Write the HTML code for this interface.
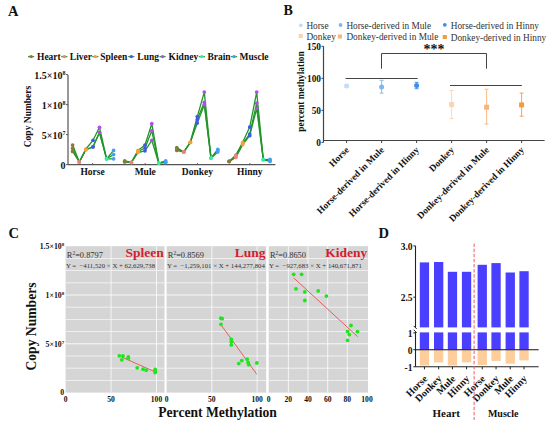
<!DOCTYPE html>
<html><head><meta charset="utf-8"><style>
html,body{margin:0;padding:0;background:#fff;}
body{width:550px;height:429px;overflow:hidden;}
svg{display:block;font-family:"Liberation Serif",serif;}
</style></head><body>
<svg width="550" height="429" viewBox="0 0 550 429">
<text x="8" y="15.8" font-size="14.5" font-weight="bold" text-anchor="start" fill="#111" >A</text>
<text x="283.5" y="15.3" font-size="14" font-weight="bold" text-anchor="start" fill="#111" >B</text>
<text x="8.5" y="238" font-size="14.5" font-weight="bold" text-anchor="start" fill="#111" >C</text>
<text x="378.5" y="237.9" font-size="14.5" font-weight="bold" text-anchor="start" fill="#111" >D</text>
<line x1="68.0" y1="75" x2="68.0" y2="164.6" stroke="#555" stroke-width="1.2" />
<line x1="68.0" y1="164.6" x2="275.4" y2="164.6" stroke="#555" stroke-width="1.2" />
<line x1="66.0" y1="74.6" x2="68.0" y2="74.6" stroke="#555" stroke-width="1" />
<text x="65.5" y="78.8" font-size="10" font-weight="bold" text-anchor="end" fill="#111" >1.5×10<tspan dy="-3.5" font-size="6">8</tspan></text>
<line x1="66.0" y1="104.6" x2="68.0" y2="104.6" stroke="#555" stroke-width="1" />
<text x="65.5" y="108.8" font-size="10" font-weight="bold" text-anchor="end" fill="#111" >1×10<tspan dy="-3.5" font-size="6">8</tspan></text>
<line x1="66.0" y1="134.6" x2="68.0" y2="134.6" stroke="#555" stroke-width="1" />
<text x="65.5" y="138.79999999999998" font-size="10" font-weight="bold" text-anchor="end" fill="#111" >5×10<tspan dy="-3.5" font-size="6">7</tspan></text>
<line x1="66.0" y1="164.6" x2="68.0" y2="164.6" stroke="#555" stroke-width="1" />
<text x="65.5" y="168.79999999999998" font-size="10" font-weight="bold" text-anchor="end" fill="#111" >0</text>
<line x1="92.6" y1="164.6" x2="92.6" y2="163.1" stroke="#555" stroke-width="1" />
<text x="92.6" y="174.8" font-size="9.5" font-weight="bold" text-anchor="middle" fill="#111" >Horse</text>
<line x1="145.2" y1="164.6" x2="145.2" y2="163.1" stroke="#555" stroke-width="1" />
<text x="145.2" y="174.8" font-size="9.5" font-weight="bold" text-anchor="middle" fill="#111" >Mule</text>
<line x1="197.4" y1="164.6" x2="197.4" y2="163.1" stroke="#555" stroke-width="1" />
<text x="197.4" y="174.8" font-size="9.5" font-weight="bold" text-anchor="middle" fill="#111" >Donkey</text>
<line x1="249.8" y1="164.6" x2="249.8" y2="163.1" stroke="#555" stroke-width="1" />
<text x="249.8" y="174.8" font-size="9.5" font-weight="bold" text-anchor="middle" fill="#111" >Hinny</text>
<text transform="translate(30.5,116.5) rotate(-90)" font-size="9.5" font-weight="bold" text-anchor="middle" fill="#111">Copy Numbers</text>
<polyline points="72.6,145 79.3,162 85.8,149 93.0,140.3 99.5,127.3 106.6,158.8 113.6,150.4" fill="none" stroke="#22962a" stroke-width="1.3" stroke-linejoin="round"/>
<polyline points="72.6,148.3 79.3,162 85.8,149.5 93.0,146.8 99.5,132.5 106.6,158.8 113.6,154.6" fill="none" stroke="#22962a" stroke-width="1.3" stroke-linejoin="round"/>
<polyline points="72.6,151.4 79.3,162 85.8,150 93.0,146.8 99.5,132.5 106.6,158.8 113.6,158.8" fill="none" stroke="#22962a" stroke-width="1.3" stroke-linejoin="round"/>
<polyline points="124.7,160.9 131.4,162.4 138.0,150.4 145.0,145 151.8,123.7 158.7,163 165.7,160.9" fill="none" stroke="#22962a" stroke-width="1.3" stroke-linejoin="round"/>
<polyline points="124.7,161.5 131.4,162.4 138.0,151.5 145.0,148 151.8,130.8 158.7,163 165.7,162" fill="none" stroke="#22962a" stroke-width="1.3" stroke-linejoin="round"/>
<polyline points="124.7,162 131.4,162.4 138.0,152.5 145.0,150.8 151.8,140.3 158.7,163 165.7,162.6" fill="none" stroke="#22962a" stroke-width="1.3" stroke-linejoin="round"/>
<polyline points="176.8,147.6 183.8,152 190.3,142.3 197.3,116.6 204.3,92.1 211.0,158.1 217.8,149.3" fill="none" stroke="#22962a" stroke-width="1.3" stroke-linejoin="round"/>
<polyline points="176.8,149 183.8,152 190.3,142.3 197.3,119.4 204.3,102.3 211.0,158.1 217.8,150.5" fill="none" stroke="#22962a" stroke-width="1.3" stroke-linejoin="round"/>
<polyline points="176.8,150.4 183.8,152 190.3,142.3 197.3,123.1 204.3,104.8 211.0,158.1 217.8,152" fill="none" stroke="#22962a" stroke-width="1.3" stroke-linejoin="round"/>
<polyline points="229.2,161.4 235.8,155 242.7,142.3 249.7,127.1 256.7,92.1 263.3,159.7 270.0,159.3" fill="none" stroke="#22962a" stroke-width="1.3" stroke-linejoin="round"/>
<polyline points="229.2,161.4 235.8,156.5 242.7,143.5 249.7,134.1 256.7,103.1 263.3,159.7 270.0,160.3" fill="none" stroke="#22962a" stroke-width="1.3" stroke-linejoin="round"/>
<polyline points="229.2,161.4 235.8,157.4 242.7,144.6 249.7,135.7 256.7,108.5 263.3,159.7 270.0,161.4" fill="none" stroke="#22962a" stroke-width="1.3" stroke-linejoin="round"/>
<circle cx="72.6" cy="145" r="1.85" fill="#8a7a3a"/>
<circle cx="72.6" cy="148.3" r="1.85" fill="#8a7a3a"/>
<circle cx="72.6" cy="151.4" r="1.85" fill="#8a7a3a"/>
<circle cx="79.3" cy="162" r="1.85" fill="#f08080"/>
<circle cx="79.3" cy="162" r="1.85" fill="#f08080"/>
<circle cx="79.3" cy="162" r="1.85" fill="#f08080"/>
<circle cx="85.8" cy="149" r="1.85" fill="#f4a040"/>
<circle cx="85.8" cy="149.5" r="1.85" fill="#f4a040"/>
<circle cx="85.8" cy="150" r="1.85" fill="#f4a040"/>
<circle cx="93.0" cy="140.3" r="1.85" fill="#3c5ce4"/>
<circle cx="93.0" cy="146.8" r="1.85" fill="#3c5ce4"/>
<circle cx="93.0" cy="146.8" r="1.85" fill="#3c5ce4"/>
<circle cx="99.5" cy="127.3" r="1.85" fill="#b04ee8"/>
<circle cx="99.5" cy="132.5" r="1.85" fill="#b04ee8"/>
<circle cx="99.5" cy="132.5" r="1.85" fill="#b04ee8"/>
<circle cx="106.6" cy="158.8" r="1.85" fill="#3ee8a4"/>
<circle cx="106.6" cy="158.8" r="1.85" fill="#3ee8a4"/>
<circle cx="106.6" cy="158.8" r="1.85" fill="#3ee8a4"/>
<circle cx="113.6" cy="150.4" r="1.85" fill="#42a0f2"/>
<circle cx="113.6" cy="154.6" r="1.85" fill="#42a0f2"/>
<circle cx="113.6" cy="158.8" r="1.85" fill="#42a0f2"/>
<circle cx="124.7" cy="160.9" r="1.85" fill="#8a7a3a"/>
<circle cx="124.7" cy="161.5" r="1.85" fill="#8a7a3a"/>
<circle cx="124.7" cy="162" r="1.85" fill="#8a7a3a"/>
<circle cx="131.4" cy="162.4" r="1.85" fill="#f08080"/>
<circle cx="131.4" cy="162.4" r="1.85" fill="#f08080"/>
<circle cx="131.4" cy="162.4" r="1.85" fill="#f08080"/>
<circle cx="138.0" cy="150.4" r="1.85" fill="#f4a040"/>
<circle cx="138.0" cy="151.5" r="1.85" fill="#f4a040"/>
<circle cx="138.0" cy="152.5" r="1.85" fill="#f4a040"/>
<circle cx="145.0" cy="145" r="1.85" fill="#3c5ce4"/>
<circle cx="145.0" cy="148" r="1.85" fill="#3c5ce4"/>
<circle cx="145.0" cy="150.8" r="1.85" fill="#3c5ce4"/>
<circle cx="151.8" cy="123.7" r="1.85" fill="#b04ee8"/>
<circle cx="151.8" cy="130.8" r="1.85" fill="#b04ee8"/>
<circle cx="151.8" cy="140.3" r="1.85" fill="#b04ee8"/>
<circle cx="158.7" cy="163" r="1.85" fill="#3ee8a4"/>
<circle cx="158.7" cy="163" r="1.85" fill="#3ee8a4"/>
<circle cx="158.7" cy="163" r="1.85" fill="#3ee8a4"/>
<circle cx="165.7" cy="160.9" r="1.85" fill="#42a0f2"/>
<circle cx="165.7" cy="162" r="1.85" fill="#42a0f2"/>
<circle cx="165.7" cy="162.6" r="1.85" fill="#42a0f2"/>
<circle cx="176.8" cy="147.6" r="1.85" fill="#8a7a3a"/>
<circle cx="176.8" cy="149" r="1.85" fill="#8a7a3a"/>
<circle cx="176.8" cy="150.4" r="1.85" fill="#8a7a3a"/>
<circle cx="183.8" cy="152" r="1.85" fill="#f08080"/>
<circle cx="183.8" cy="152" r="1.85" fill="#f08080"/>
<circle cx="183.8" cy="152" r="1.85" fill="#f08080"/>
<circle cx="190.3" cy="142.3" r="1.85" fill="#f4a040"/>
<circle cx="190.3" cy="142.3" r="1.85" fill="#f4a040"/>
<circle cx="190.3" cy="142.3" r="1.85" fill="#f4a040"/>
<circle cx="197.3" cy="116.6" r="1.85" fill="#3c5ce4"/>
<circle cx="197.3" cy="119.4" r="1.85" fill="#3c5ce4"/>
<circle cx="197.3" cy="123.1" r="1.85" fill="#3c5ce4"/>
<circle cx="204.3" cy="92.1" r="1.85" fill="#b04ee8"/>
<circle cx="204.3" cy="102.3" r="1.85" fill="#b04ee8"/>
<circle cx="204.3" cy="104.8" r="1.85" fill="#b04ee8"/>
<circle cx="211.0" cy="158.1" r="1.85" fill="#3ee8a4"/>
<circle cx="211.0" cy="158.1" r="1.85" fill="#3ee8a4"/>
<circle cx="211.0" cy="158.1" r="1.85" fill="#3ee8a4"/>
<circle cx="217.8" cy="149.3" r="1.85" fill="#42a0f2"/>
<circle cx="217.8" cy="150.5" r="1.85" fill="#42a0f2"/>
<circle cx="217.8" cy="152" r="1.85" fill="#42a0f2"/>
<circle cx="229.2" cy="161.4" r="1.85" fill="#8a7a3a"/>
<circle cx="229.2" cy="161.4" r="1.85" fill="#8a7a3a"/>
<circle cx="229.2" cy="161.4" r="1.85" fill="#8a7a3a"/>
<circle cx="235.8" cy="155" r="1.85" fill="#f08080"/>
<circle cx="235.8" cy="156.5" r="1.85" fill="#f08080"/>
<circle cx="235.8" cy="157.4" r="1.85" fill="#f08080"/>
<circle cx="242.7" cy="142.3" r="1.85" fill="#f4a040"/>
<circle cx="242.7" cy="143.5" r="1.85" fill="#f4a040"/>
<circle cx="242.7" cy="144.6" r="1.85" fill="#f4a040"/>
<circle cx="249.7" cy="127.1" r="1.85" fill="#3c5ce4"/>
<circle cx="249.7" cy="134.1" r="1.85" fill="#3c5ce4"/>
<circle cx="249.7" cy="135.7" r="1.85" fill="#3c5ce4"/>
<circle cx="256.7" cy="92.1" r="1.85" fill="#b04ee8"/>
<circle cx="256.7" cy="103.1" r="1.85" fill="#b04ee8"/>
<circle cx="256.7" cy="108.5" r="1.85" fill="#b04ee8"/>
<circle cx="263.3" cy="159.7" r="1.85" fill="#3ee8a4"/>
<circle cx="263.3" cy="159.7" r="1.85" fill="#3ee8a4"/>
<circle cx="263.3" cy="159.7" r="1.85" fill="#3ee8a4"/>
<circle cx="270.0" cy="159.3" r="1.85" fill="#42a0f2"/>
<circle cx="270.0" cy="160.3" r="1.85" fill="#42a0f2"/>
<circle cx="270.0" cy="161.4" r="1.85" fill="#42a0f2"/>
<line x1="28.0" y1="56.6" x2="34.2" y2="56.6" stroke="#3a9a3a" stroke-width="1.3"/>
<circle cx="31.1" cy="56.6" r="1.7" fill="#8a7a3a"/>
<text x="37" y="60.2" font-size="9.5" font-weight="bold" text-anchor="start" fill="#111" >Heart</text>
<line x1="61.199999999999996" y1="56.6" x2="67.39999999999999" y2="56.6" stroke="#3a9a3a" stroke-width="1.3"/>
<circle cx="64.3" cy="56.6" r="1.7" fill="#f08080"/>
<text x="69.8" y="60.2" font-size="9.5" font-weight="bold" text-anchor="start" fill="#111" >Liver</text>
<line x1="92.2" y1="56.6" x2="98.39999999999999" y2="56.6" stroke="#3a9a3a" stroke-width="1.3"/>
<circle cx="95.3" cy="56.6" r="1.7" fill="#f4a040"/>
<text x="100.3" y="60.2" font-size="9.5" font-weight="bold" text-anchor="start" fill="#111" >Spleen</text>
<line x1="128.20000000000002" y1="56.6" x2="134.4" y2="56.6" stroke="#3a9a3a" stroke-width="1.3"/>
<circle cx="131.3" cy="56.6" r="1.7" fill="#3c5ce4"/>
<text x="137.3" y="60.2" font-size="9.5" font-weight="bold" text-anchor="start" fill="#111" >Lung</text>
<line x1="159.5" y1="56.6" x2="165.7" y2="56.6" stroke="#3a9a3a" stroke-width="1.3"/>
<circle cx="162.6" cy="56.6" r="1.7" fill="#b04ee8"/>
<text x="168.6" y="60.2" font-size="9.5" font-weight="bold" text-anchor="start" fill="#111" >Kidney</text>
<line x1="198.8" y1="56.6" x2="205.0" y2="56.6" stroke="#3a9a3a" stroke-width="1.3"/>
<circle cx="201.9" cy="56.6" r="1.7" fill="#3ee8a4"/>
<text x="207.4" y="60.2" font-size="9.5" font-weight="bold" text-anchor="start" fill="#111" >Brain</text>
<line x1="230.9" y1="56.6" x2="237.1" y2="56.6" stroke="#3a9a3a" stroke-width="1.3"/>
<circle cx="234.0" cy="56.6" r="1.7" fill="#42a0f2"/>
<text x="239.5" y="60.2" font-size="9.5" font-weight="bold" text-anchor="start" fill="#111" >Muscle</text>
<line x1="323.5" y1="46.3" x2="323.5" y2="142.4" stroke="#444" stroke-width="1.2" />
<line x1="323.5" y1="140.5" x2="544.6" y2="140.5" stroke="#444" stroke-width="1.2" />
<line x1="321.5" y1="46.3" x2="323.5" y2="46.3" stroke="#444" stroke-width="1" />
<text x="321.0" y="50.3" font-size="9.3" font-weight="bold" text-anchor="end" fill="#111" >150</text>
<line x1="321.5" y1="78.33333333333334" x2="323.5" y2="78.33333333333334" stroke="#444" stroke-width="1" />
<text x="321.0" y="82.33333333333334" font-size="9.3" font-weight="bold" text-anchor="end" fill="#111" >100</text>
<line x1="321.5" y1="110.36666666666667" x2="323.5" y2="110.36666666666667" stroke="#444" stroke-width="1" />
<text x="321.0" y="114.36666666666667" font-size="9.3" font-weight="bold" text-anchor="end" fill="#111" >50</text>
<line x1="321.5" y1="142.4" x2="323.5" y2="142.4" stroke="#444" stroke-width="1" />
<text x="321.0" y="146.4" font-size="9.3" font-weight="bold" text-anchor="end" fill="#111" >0</text>
<text transform="translate(304.2,91.5) rotate(-90)" font-size="9.4" font-weight="bold" text-anchor="middle" fill="#111">percent methylation</text>
<line x1="346.6" y1="140.5" x2="346.6" y2="143.0" stroke="#444" stroke-width="1" />
<text transform="translate(349.6,150.5) rotate(-45)" font-size="9.4" font-weight="bold" text-anchor="end" fill="#111">Horse</text>
<line x1="381.6" y1="140.5" x2="381.6" y2="143.0" stroke="#444" stroke-width="1" />
<text transform="translate(384.6,150.5) rotate(-45)" font-size="9.4" font-weight="bold" text-anchor="end" fill="#111">Horse-derived in Mule</text>
<line x1="416.6" y1="140.5" x2="416.6" y2="143.0" stroke="#444" stroke-width="1" />
<text transform="translate(419.6,150.5) rotate(-45)" font-size="9.4" font-weight="bold" text-anchor="end" fill="#111">Horse-derived in Hinny</text>
<line x1="451.6" y1="140.5" x2="451.6" y2="143.0" stroke="#444" stroke-width="1" />
<text transform="translate(454.6,150.5) rotate(-45)" font-size="9.4" font-weight="bold" text-anchor="end" fill="#111">Donkey</text>
<line x1="486.6" y1="140.5" x2="486.6" y2="143.0" stroke="#444" stroke-width="1" />
<text transform="translate(489.6,150.5) rotate(-45)" font-size="9.4" font-weight="bold" text-anchor="end" fill="#111">Donkey-derived in Mule</text>
<line x1="521.6" y1="140.5" x2="521.6" y2="143.0" stroke="#444" stroke-width="1" />
<text transform="translate(524.6,150.5) rotate(-45)" font-size="9.4" font-weight="bold" text-anchor="end" fill="#111">Donkey-derived in Hinny</text>
<line x1="346.6" y1="84.5" x2="346.6" y2="87.5" stroke="#c4dcf6" stroke-width="0.9" />
<line x1="344.6" y1="84.5" x2="348.6" y2="84.5" stroke="#c4dcf6" stroke-width="0.9" />
<line x1="344.6" y1="87.5" x2="348.6" y2="87.5" stroke="#c4dcf6" stroke-width="0.9" />
<circle cx="346.6" cy="86.0" r="2.5" fill="#c4dcf6"/>
<line x1="381.6" y1="80.3" x2="381.6" y2="93.1" stroke="#80b6ee" stroke-width="0.9" />
<line x1="379.6" y1="80.3" x2="383.6" y2="80.3" stroke="#80b6ee" stroke-width="0.9" />
<line x1="379.6" y1="93.1" x2="383.6" y2="93.1" stroke="#80b6ee" stroke-width="0.9" />
<circle cx="381.6" cy="86.9" r="2.5" fill="#80b6ee"/>
<line x1="416.6" y1="82.3" x2="416.6" y2="88.7" stroke="#3e8ee8" stroke-width="0.9" />
<line x1="414.6" y1="82.3" x2="418.6" y2="82.3" stroke="#3e8ee8" stroke-width="0.9" />
<line x1="414.6" y1="88.7" x2="418.6" y2="88.7" stroke="#3e8ee8" stroke-width="0.9" />
<circle cx="416.6" cy="85.6" r="2.5" fill="#3e8ee8"/>
<line x1="451.6" y1="90.5" x2="451.6" y2="118.7" stroke="#fad4ae" stroke-width="0.9" />
<line x1="449.6" y1="90.5" x2="453.6" y2="90.5" stroke="#fad4ae" stroke-width="0.9" />
<line x1="449.6" y1="118.7" x2="453.6" y2="118.7" stroke="#fad4ae" stroke-width="0.9" />
<rect x="449.1" y="102.1" width="5" height="5" fill="#fad4ae"/>
<line x1="486.6" y1="89.2" x2="486.6" y2="124.1" stroke="#f8b47a" stroke-width="0.9" />
<line x1="484.6" y1="89.2" x2="488.6" y2="89.2" stroke="#f8b47a" stroke-width="0.9" />
<line x1="484.6" y1="124.1" x2="488.6" y2="124.1" stroke="#f8b47a" stroke-width="0.9" />
<rect x="484.1" y="104.7" width="5" height="5" fill="#f8b47a"/>
<line x1="521.6" y1="93.1" x2="521.6" y2="116.2" stroke="#f59a3e" stroke-width="0.9" />
<line x1="519.6" y1="93.1" x2="523.6" y2="93.1" stroke="#f59a3e" stroke-width="0.9" />
<line x1="519.6" y1="116.2" x2="523.6" y2="116.2" stroke="#f59a3e" stroke-width="0.9" />
<rect x="519.1" y="102.4" width="5" height="5" fill="#f59a3e"/>
<line x1="345.5" y1="78.5" x2="417.6" y2="78.5" stroke="#444" stroke-width="1.1" />
<line x1="450" y1="85.5" x2="521.8" y2="85.5" stroke="#444" stroke-width="1.1" />
<polyline points="381.5,68.7 381.5,53.5 486.5,53.5 486.5,68.7" fill="none" stroke="#444" stroke-width="1"/>
<text x="434" y="54.0" font-size="14" font-weight="bold" text-anchor="middle" fill="#111" >***</text>
<circle cx="300.8" cy="25.3" r="1.9" fill="#c4dcf6"/>
<text x="306.4" y="28.7" font-size="9.3" font-weight="normal" text-anchor="start" fill="#333" >Horse</text>
<circle cx="340.5" cy="25.0" r="1.9" fill="#80b6ee"/>
<text x="346.4" y="28.7" font-size="9.3" font-weight="normal" text-anchor="start" fill="#333" >Horse-derived in Mule</text>
<circle cx="444.8" cy="24.8" r="1.9" fill="#3e8ee8"/>
<text x="450.7" y="28.5" font-size="9.3" font-weight="normal" text-anchor="start" fill="#333" >Horse-derived in Hinny</text>
<rect x="298.7" y="34.0" width="4.2" height="4" fill="#fad4ae"/>
<text x="306.4" y="39.6" font-size="9.3" font-weight="normal" text-anchor="start" fill="#333" >Donkey</text>
<rect x="337.79999999999995" y="34.5" width="4.2" height="4" fill="#f8b47a"/>
<text x="346.4" y="39.9" font-size="9.3" font-weight="normal" text-anchor="start" fill="#333" >Donkey-derived in Mule</text>
<rect x="442.7" y="35.0" width="4.2" height="4" fill="#f59a3e"/>
<text x="450.7" y="40.5" font-size="9.3" font-weight="normal" text-anchor="start" fill="#333" >Donkey-derived in Hinny</text>
<rect x="65.6" y="246.2" width="98.9" height="146.40000000000003" fill="#d5d5d5"/>
<line x1="65.6" y1="380.40000000000003" x2="164.5" y2="380.40000000000003" stroke="#ffffff" stroke-width="0.8" opacity="0.85"/>
<line x1="65.6" y1="368.2" x2="164.5" y2="368.2" stroke="#ffffff" stroke-width="0.8" opacity="0.85"/>
<line x1="65.6" y1="356.0" x2="164.5" y2="356.0" stroke="#ffffff" stroke-width="0.8" opacity="0.85"/>
<line x1="65.6" y1="343.8" x2="164.5" y2="343.8" stroke="#ffffff" stroke-width="1.0" opacity="0.85"/>
<line x1="65.6" y1="331.6" x2="164.5" y2="331.6" stroke="#ffffff" stroke-width="0.8" opacity="0.85"/>
<line x1="65.6" y1="319.4" x2="164.5" y2="319.4" stroke="#ffffff" stroke-width="0.8" opacity="0.85"/>
<line x1="65.6" y1="307.2" x2="164.5" y2="307.2" stroke="#ffffff" stroke-width="0.8" opacity="0.85"/>
<line x1="65.6" y1="295.0" x2="164.5" y2="295.0" stroke="#ffffff" stroke-width="1.0" opacity="0.85"/>
<line x1="65.6" y1="282.8" x2="164.5" y2="282.8" stroke="#ffffff" stroke-width="0.8" opacity="0.85"/>
<line x1="65.6" y1="270.6" x2="164.5" y2="270.6" stroke="#ffffff" stroke-width="0.8" opacity="0.85"/>
<line x1="65.6" y1="258.4" x2="164.5" y2="258.4" stroke="#ffffff" stroke-width="0.8" opacity="0.85"/>
<line x1="111.05" y1="246.2" x2="111.05" y2="392.6" stroke="#ffffff" stroke-width="0.9" opacity="0.85"/>
<line x1="156.5" y1="246.2" x2="156.5" y2="392.6" stroke="#ffffff" stroke-width="0.9" opacity="0.85"/>
<text x="66.8" y="257.5" font-size="8.4" fill="#333">R<tspan dy="-3" font-size="5.5">2</tspan><tspan dy="3">=0.8797</tspan></text>
<text x="65.89999999999999" y="267.8" font-size="6.8" fill="#333">Y =&#160; −411,520 × X + 62,629,738</text>
<text x="163.8" y="256.9" font-size="13.5" font-weight="bold" text-anchor="end" fill="#d41e2e" >Spleen</text>
<rect x="166.6" y="246.2" width="99.6" height="146.40000000000003" fill="#d5d5d5"/>
<line x1="166.6" y1="380.40000000000003" x2="266.2" y2="380.40000000000003" stroke="#ffffff" stroke-width="0.8" opacity="0.85"/>
<line x1="166.6" y1="368.2" x2="266.2" y2="368.2" stroke="#ffffff" stroke-width="0.8" opacity="0.85"/>
<line x1="166.6" y1="356.0" x2="266.2" y2="356.0" stroke="#ffffff" stroke-width="0.8" opacity="0.85"/>
<line x1="166.6" y1="343.8" x2="266.2" y2="343.8" stroke="#ffffff" stroke-width="1.0" opacity="0.85"/>
<line x1="166.6" y1="331.6" x2="266.2" y2="331.6" stroke="#ffffff" stroke-width="0.8" opacity="0.85"/>
<line x1="166.6" y1="319.4" x2="266.2" y2="319.4" stroke="#ffffff" stroke-width="0.8" opacity="0.85"/>
<line x1="166.6" y1="307.2" x2="266.2" y2="307.2" stroke="#ffffff" stroke-width="0.8" opacity="0.85"/>
<line x1="166.6" y1="295.0" x2="266.2" y2="295.0" stroke="#ffffff" stroke-width="1.0" opacity="0.85"/>
<line x1="166.6" y1="282.8" x2="266.2" y2="282.8" stroke="#ffffff" stroke-width="0.8" opacity="0.85"/>
<line x1="166.6" y1="270.6" x2="266.2" y2="270.6" stroke="#ffffff" stroke-width="0.8" opacity="0.85"/>
<line x1="166.6" y1="258.4" x2="266.2" y2="258.4" stroke="#ffffff" stroke-width="0.8" opacity="0.85"/>
<line x1="211.85" y1="246.2" x2="211.85" y2="392.6" stroke="#ffffff" stroke-width="0.9" opacity="0.85"/>
<line x1="257.1" y1="246.2" x2="257.1" y2="392.6" stroke="#ffffff" stroke-width="0.9" opacity="0.85"/>
<text x="167.79999999999998" y="257.5" font-size="8.4" fill="#333">R<tspan dy="-3" font-size="5.5">2</tspan><tspan dy="3">=0.8569</tspan></text>
<text x="166.9" y="267.8" font-size="6.8" fill="#333">Y =&#160; −1,259,101 × X + 144,277,804</text>
<text x="265.5" y="256.9" font-size="13.5" font-weight="bold" text-anchor="end" fill="#d41e2e" >Lung</text>
<rect x="268.7" y="246.2" width="99.30000000000001" height="146.40000000000003" fill="#d5d5d5"/>
<line x1="268.7" y1="380.40000000000003" x2="368.0" y2="380.40000000000003" stroke="#ffffff" stroke-width="0.8" opacity="0.85"/>
<line x1="268.7" y1="368.2" x2="368.0" y2="368.2" stroke="#ffffff" stroke-width="0.8" opacity="0.85"/>
<line x1="268.7" y1="356.0" x2="368.0" y2="356.0" stroke="#ffffff" stroke-width="0.8" opacity="0.85"/>
<line x1="268.7" y1="343.8" x2="368.0" y2="343.8" stroke="#ffffff" stroke-width="1.0" opacity="0.85"/>
<line x1="268.7" y1="331.6" x2="368.0" y2="331.6" stroke="#ffffff" stroke-width="0.8" opacity="0.85"/>
<line x1="268.7" y1="319.4" x2="368.0" y2="319.4" stroke="#ffffff" stroke-width="0.8" opacity="0.85"/>
<line x1="268.7" y1="307.2" x2="368.0" y2="307.2" stroke="#ffffff" stroke-width="0.8" opacity="0.85"/>
<line x1="268.7" y1="295.0" x2="368.0" y2="295.0" stroke="#ffffff" stroke-width="1.0" opacity="0.85"/>
<line x1="268.7" y1="282.8" x2="368.0" y2="282.8" stroke="#ffffff" stroke-width="0.8" opacity="0.85"/>
<line x1="268.7" y1="270.6" x2="368.0" y2="270.6" stroke="#ffffff" stroke-width="0.8" opacity="0.85"/>
<line x1="268.7" y1="258.4" x2="368.0" y2="258.4" stroke="#ffffff" stroke-width="0.8" opacity="0.85"/>
<line x1="288.36" y1="246.2" x2="288.36" y2="392.6" stroke="#ffffff" stroke-width="0.9" opacity="0.85"/>
<line x1="308.02" y1="246.2" x2="308.02" y2="392.6" stroke="#ffffff" stroke-width="0.9" opacity="0.85"/>
<line x1="327.68" y1="246.2" x2="327.68" y2="392.6" stroke="#ffffff" stroke-width="0.9" opacity="0.85"/>
<line x1="347.34" y1="246.2" x2="347.34" y2="392.6" stroke="#ffffff" stroke-width="0.9" opacity="0.85"/>
<text x="269.9" y="257.5" font-size="8.4" fill="#333">R<tspan dy="-3" font-size="5.5">2</tspan><tspan dy="3">=0.8650</tspan></text>
<text x="269.0" y="267.8" font-size="6.8" fill="#333">Y =&#160; −927,683 × X + 140,671,871</text>
<text x="367.3" y="256.9" font-size="13.5" font-weight="bold" text-anchor="end" fill="#d41e2e" >Kideny</text>
<line x1="121.5" y1="357.0" x2="155.4" y2="372.0" stroke="#e85050" stroke-width="0.9" />
<line x1="221" y1="324.8" x2="256.8" y2="374.3" stroke="#e85050" stroke-width="0.9" />
<line x1="293.7" y1="277.9" x2="357.7" y2="336.7" stroke="#e85050" stroke-width="0.9" />
<circle cx="119.3" cy="355.8" r="1.9" fill="#1ee61e"/>
<circle cx="123" cy="356" r="1.9" fill="#1ee61e"/>
<circle cx="121.8" cy="359.8" r="1.9" fill="#1ee61e"/>
<circle cx="128.3" cy="357" r="1.9" fill="#1ee61e"/>
<circle cx="128.3" cy="358.3" r="1.9" fill="#1ee61e"/>
<circle cx="137.2" cy="367.8" r="1.9" fill="#1ee61e"/>
<circle cx="143" cy="369.2" r="1.9" fill="#1ee61e"/>
<circle cx="146.2" cy="370.2" r="1.9" fill="#1ee61e"/>
<circle cx="155.2" cy="369.5" r="1.9" fill="#1ee61e"/>
<circle cx="155.2" cy="371.2" r="1.9" fill="#1ee61e"/>
<circle cx="155.2" cy="372.5" r="1.9" fill="#1ee61e"/>
<circle cx="220.8" cy="318.2" r="1.9" fill="#1ee61e"/>
<circle cx="222.2" cy="318.7" r="1.9" fill="#1ee61e"/>
<circle cx="221" cy="324.3" r="1.9" fill="#1ee61e"/>
<circle cx="231.3" cy="339.3" r="1.9" fill="#1ee61e"/>
<circle cx="231.3" cy="341.8" r="1.9" fill="#1ee61e"/>
<circle cx="231.3" cy="344.9" r="1.9" fill="#1ee61e"/>
<circle cx="238.8" cy="363.6" r="1.9" fill="#1ee61e"/>
<circle cx="241.8" cy="360.6" r="1.9" fill="#1ee61e"/>
<circle cx="247.2" cy="359.2" r="1.9" fill="#1ee61e"/>
<circle cx="248.1" cy="362.4" r="1.9" fill="#1ee61e"/>
<circle cx="248.8" cy="364.7" r="1.9" fill="#1ee61e"/>
<circle cx="256.8" cy="362.9" r="1.9" fill="#1ee61e"/>
<circle cx="293.7" cy="274.3" r="1.9" fill="#1ee61e"/>
<circle cx="301.6" cy="274.3" r="1.9" fill="#1ee61e"/>
<circle cx="296" cy="288.8" r="1.9" fill="#1ee61e"/>
<circle cx="304.8" cy="291.9" r="1.9" fill="#1ee61e"/>
<circle cx="304.8" cy="300.5" r="1.9" fill="#1ee61e"/>
<circle cx="318.2" cy="290.9" r="1.9" fill="#1ee61e"/>
<circle cx="326.4" cy="296.1" r="1.9" fill="#1ee61e"/>
<circle cx="351" cy="325.5" r="1.9" fill="#1ee61e"/>
<circle cx="347.6" cy="331.4" r="1.9" fill="#1ee61e"/>
<circle cx="349.3" cy="334.6" r="1.9" fill="#1ee61e"/>
<circle cx="357.5" cy="331.6" r="1.9" fill="#1ee61e"/>
<circle cx="347.6" cy="340.3" r="1.9" fill="#1ee61e"/>
<text x="64.2" y="249.0" font-size="7.8" font-weight="bold" text-anchor="end" fill="#111" >1.5×10<tspan dy="-3" font-size="5">8</tspan></text>
<text x="64.2" y="297.8" font-size="7.8" font-weight="bold" text-anchor="end" fill="#111" >1×10<tspan dy="-3" font-size="5">8</tspan></text>
<text x="64.2" y="346.6" font-size="7.8" font-weight="bold" text-anchor="end" fill="#111" >5×10<tspan dy="-3" font-size="5">7</tspan></text>
<text x="64.2" y="395.40000000000003" font-size="7.8" font-weight="bold" text-anchor="end" fill="#111" >0</text>
<text x="65.6" y="402.3" font-size="7.6" font-weight="bold" text-anchor="middle" fill="#111" >0</text>
<text x="111.05" y="402.3" font-size="7.6" font-weight="bold" text-anchor="middle" fill="#111" >50</text>
<text x="156.5" y="402.3" font-size="7.6" font-weight="bold" text-anchor="middle" fill="#111" >100</text>
<text x="166.6" y="402.3" font-size="7.6" font-weight="bold" text-anchor="middle" fill="#111" >0</text>
<text x="211.85" y="402.3" font-size="7.6" font-weight="bold" text-anchor="middle" fill="#111" >50</text>
<text x="257.1" y="402.3" font-size="7.6" font-weight="bold" text-anchor="middle" fill="#111" >100</text>
<text x="268.7" y="402.3" font-size="7.6" font-weight="bold" text-anchor="middle" fill="#111" >0</text>
<text x="288.36" y="402.3" font-size="7.6" font-weight="bold" text-anchor="middle" fill="#111" >20</text>
<text x="308.02" y="402.3" font-size="7.6" font-weight="bold" text-anchor="middle" fill="#111" >40</text>
<text x="327.68" y="402.3" font-size="7.6" font-weight="bold" text-anchor="middle" fill="#111" >60</text>
<text x="347.34" y="402.3" font-size="7.6" font-weight="bold" text-anchor="middle" fill="#111" >80</text>
<text x="367.0" y="402.3" font-size="7.6" font-weight="bold" text-anchor="middle" fill="#111" >100</text>
<text transform="translate(35.6,326.5) rotate(-90)" font-size="13.6" font-weight="bold" text-anchor="middle" fill="#111">Copy Numbers</text>
<text x="217.6" y="417.4" font-size="13.6" font-weight="bold" text-anchor="middle" fill="#111" >Percent Methylation</text>
<rect x="419.8" y="262.4" width="9.3" height="65.0" fill="#4a3eff"/>
<rect x="419.8" y="332.4" width="9.3" height="17.30000000000001" fill="#4a3eff"/>
<rect x="419.8" y="349.7" width="9.3" height="15.800000000000011" fill="#fdcd9b"/>
<rect x="434.0" y="262.0" width="9.3" height="65.39999999999998" fill="#4a3eff"/>
<rect x="434.0" y="332.4" width="9.3" height="17.30000000000001" fill="#4a3eff"/>
<rect x="434.0" y="349.7" width="9.3" height="12.699999999999989" fill="#fdcd9b"/>
<rect x="447.8" y="271.8" width="9.3" height="55.599999999999966" fill="#4a3eff"/>
<rect x="447.8" y="332.4" width="9.3" height="17.30000000000001" fill="#4a3eff"/>
<rect x="447.8" y="349.7" width="9.3" height="15.800000000000011" fill="#fdcd9b"/>
<rect x="461.9" y="271.8" width="9.3" height="55.599999999999966" fill="#4a3eff"/>
<rect x="461.9" y="332.4" width="9.3" height="17.30000000000001" fill="#4a3eff"/>
<rect x="461.9" y="349.7" width="9.3" height="12.699999999999989" fill="#fdcd9b"/>
<rect x="477.6" y="264.8" width="9.3" height="62.599999999999966" fill="#4a3eff"/>
<rect x="477.6" y="332.4" width="9.3" height="17.30000000000001" fill="#4a3eff"/>
<rect x="477.6" y="349.7" width="9.3" height="15.300000000000011" fill="#fdcd9b"/>
<rect x="491.4" y="263.1" width="9.3" height="64.29999999999995" fill="#4a3eff"/>
<rect x="491.4" y="332.4" width="9.3" height="17.30000000000001" fill="#4a3eff"/>
<rect x="491.4" y="349.7" width="9.3" height="11.199999999999989" fill="#fdcd9b"/>
<rect x="505.6" y="272.5" width="9.3" height="54.89999999999998" fill="#4a3eff"/>
<rect x="505.6" y="332.4" width="9.3" height="17.30000000000001" fill="#4a3eff"/>
<rect x="505.6" y="349.7" width="9.3" height="14.0" fill="#fdcd9b"/>
<rect x="519.4" y="271.2" width="9.3" height="56.19999999999999" fill="#4a3eff"/>
<rect x="519.4" y="332.4" width="9.3" height="17.30000000000001" fill="#4a3eff"/>
<rect x="519.4" y="349.7" width="9.3" height="10.699999999999989" fill="#fdcd9b"/>
<line x1="415.5" y1="349.7" x2="538.6" y2="349.7" stroke="#111" stroke-width="1.1" />
<line x1="415.5" y1="366.8" x2="538.6" y2="366.8" stroke="#222" stroke-width="1.1" />
<line x1="415.5" y1="245.9" x2="415.5" y2="327.9" stroke="#222" stroke-width="1.1" />
<line x1="415.5" y1="331.9" x2="415.5" y2="366.8" stroke="#222" stroke-width="1.1" />
<rect x="413.5" y="327.7" width="4" height="4.2" fill="#fff"/>
<path d="M413.7,325.9 L416.7,328.9 M413.7,329.79999999999995 L416.7,332.79999999999995" stroke="#222" stroke-width="1" fill="none"/>
<line x1="413.3" y1="245.9" x2="415.5" y2="245.9" stroke="#222" stroke-width="1" />
<text x="412.5" y="249.9" font-size="9.5" font-weight="bold" text-anchor="end" fill="#111" >3.0</text>
<line x1="413.3" y1="297.2" x2="415.5" y2="297.2" stroke="#222" stroke-width="1" />
<text x="412.5" y="301.2" font-size="9.5" font-weight="bold" text-anchor="end" fill="#111" >2.5</text>
<line x1="413.3" y1="332.9" x2="415.5" y2="332.9" stroke="#222" stroke-width="1" />
<text x="412.5" y="336.9" font-size="9.5" font-weight="bold" text-anchor="end" fill="#111" >1</text>
<line x1="413.3" y1="349.7" x2="415.5" y2="349.7" stroke="#222" stroke-width="1" />
<text x="412.5" y="353.7" font-size="9.5" font-weight="bold" text-anchor="end" fill="#111" >0</text>
<line x1="413.3" y1="366.8" x2="415.5" y2="366.8" stroke="#222" stroke-width="1" />
<text x="412.5" y="370.8" font-size="9.5" font-weight="bold" text-anchor="end" fill="#111" >-1</text>
<line x1="424.45" y1="366.8" x2="424.45" y2="369.3" stroke="#222" stroke-width="1" />
<text transform="translate(428.05,379.3) rotate(-45)" font-size="10" font-weight="bold" text-anchor="end" fill="#111">Horse</text>
<line x1="438.65" y1="366.8" x2="438.65" y2="369.3" stroke="#222" stroke-width="1" />
<text transform="translate(442.25,379.3) rotate(-45)" font-size="10" font-weight="bold" text-anchor="end" fill="#111">Donkey</text>
<line x1="452.45" y1="366.8" x2="452.45" y2="369.3" stroke="#222" stroke-width="1" />
<text transform="translate(456.05,379.3) rotate(-45)" font-size="10" font-weight="bold" text-anchor="end" fill="#111">Mule</text>
<line x1="466.54999999999995" y1="366.8" x2="466.54999999999995" y2="369.3" stroke="#222" stroke-width="1" />
<text transform="translate(470.15,379.3) rotate(-45)" font-size="10" font-weight="bold" text-anchor="end" fill="#111">Hinny</text>
<line x1="482.25" y1="366.8" x2="482.25" y2="369.3" stroke="#222" stroke-width="1" />
<text transform="translate(485.85,379.3) rotate(-45)" font-size="10" font-weight="bold" text-anchor="end" fill="#111">Horse</text>
<line x1="496.04999999999995" y1="366.8" x2="496.04999999999995" y2="369.3" stroke="#222" stroke-width="1" />
<text transform="translate(499.65,379.3) rotate(-45)" font-size="10" font-weight="bold" text-anchor="end" fill="#111">Donkey</text>
<line x1="510.25" y1="366.8" x2="510.25" y2="369.3" stroke="#222" stroke-width="1" />
<text transform="translate(513.85,379.3) rotate(-45)" font-size="10" font-weight="bold" text-anchor="end" fill="#111">Mule</text>
<line x1="524.05" y1="366.8" x2="524.05" y2="369.3" stroke="#222" stroke-width="1" />
<text transform="translate(527.65,379.3) rotate(-45)" font-size="10" font-weight="bold" text-anchor="end" fill="#111">Hinny</text>
<line x1="474.1" y1="243.6" x2="474.1" y2="420" stroke="#f05a62" stroke-width="1" stroke-dasharray="3.4,1.7"/>
<text x="446.3" y="416.9" font-size="11" font-weight="bold" text-anchor="middle" fill="#111" >Heart</text>
<text x="503.2" y="416.7" font-size="10" font-weight="bold" text-anchor="middle" fill="#111" >Muscle</text>
</svg>
</body></html>
